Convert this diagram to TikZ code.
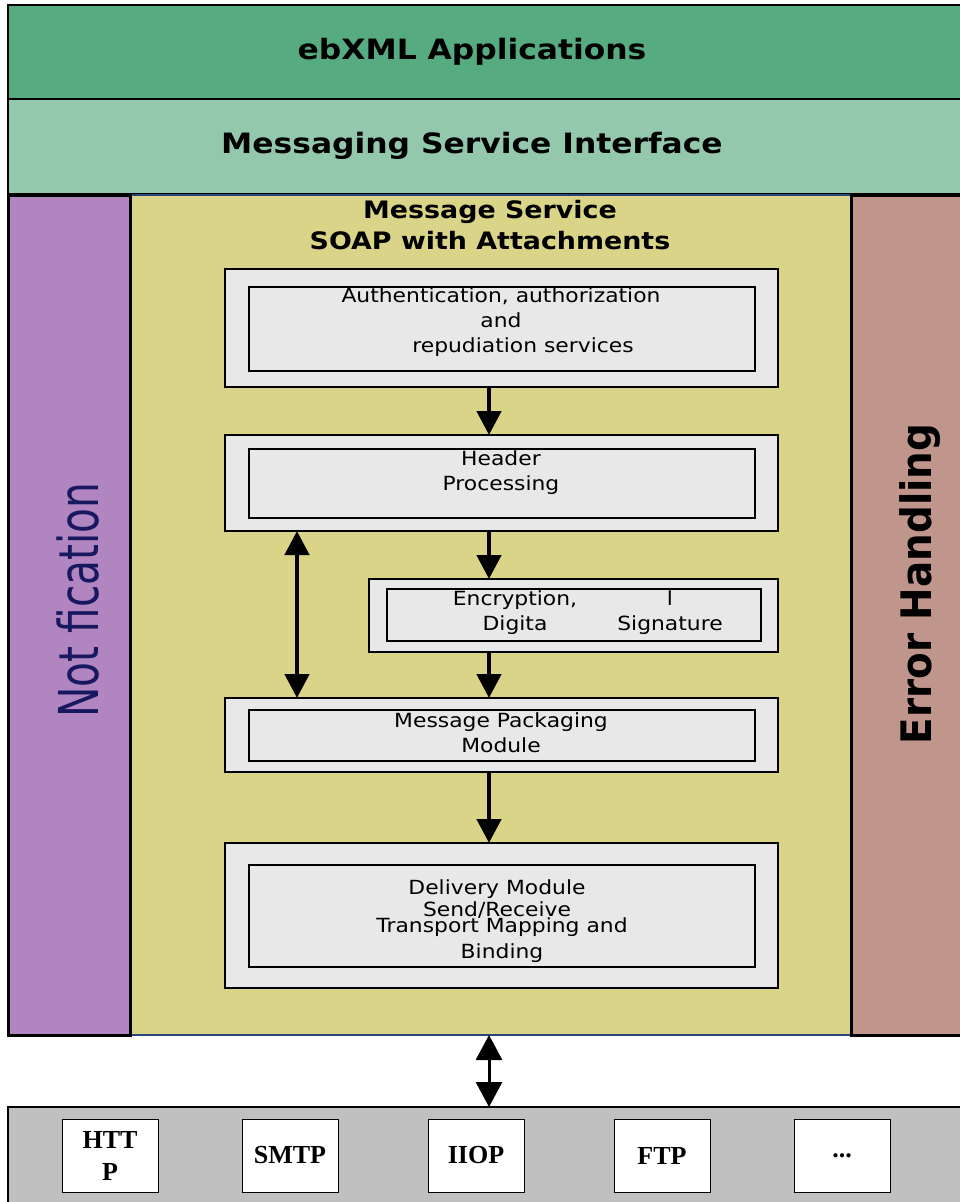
\documentclass[tikz,border=0pt]{standalone}
\usepackage{fontspec}
\usepackage{graphicx}
\setmainfont[FakeStretch=1.12]{DejaVu Sans}
\newfontfamily\barfont{DejaVu Sans}
\newfontfamily\protofont{Liberation Serif}
\usetikzlibrary{arrows.meta}

\definecolor{appgreen}{RGB}{86,171,128}
\definecolor{msigreen}{RGB}{147,200,172}
\definecolor{notifpurple}{RGB}{176,133,192}
\definecolor{notifnavy}{RGB}{24,24,96}
\definecolor{coreyellow}{RGB}{217,212,135}
\definecolor{errrose}{RGB}{192,149,140}
\definecolor{modgray}{RGB}{232,232,232}
\definecolor{transgray}{RGB}{192,192,192}
\definecolor{edgeblue}{RGB}{40,70,120}

\tikzset{
  layer/.style={draw, line width=1.5pt, anchor=north west, inner sep=0pt, outer sep=0pt},
  layertext/.style={font=\fontsize{28}{32}\selectfont\bfseries},
  sidebar/.style={draw, line width=3pt, anchor=north west, inner sep=0pt, outer sep=0pt},
  modbox/.style={draw, fill=modgray, line width=1.5pt, anchor=north west, inner sep=0pt, outer sep=0pt},
  modtext/.style={align=center, inner sep=0pt, font=\fontsize{19.5}{25}\selectfont},
  protobox/.style={draw, fill=white, line width=0.8pt, anchor=north west, inner sep=0pt, outer sep=0pt,
    minimum width=96, minimum height=73},
  prototext/.style={align=center, inner sep=0pt, font=\protofont\bfseries\fontsize{26}{32}\selectfont},
  flow/.style={line width=4.5pt, -{Triangle[length=24pt,width=24pt]}},
  dflow/.style={line width=4.5pt, {Triangle[length=24pt,width=24pt]}-{Triangle[length=24pt,width=24pt]}},
  tflow/.style={line width=3pt, {Triangle[length=25pt,width=26pt]}-{Triangle[length=25pt,width=26pt]}}
}

\begin{document}
\begin{tikzpicture}[x=1pt,y=-1pt]
  \useasboundingbox (0,0) rectangle (960,1202);

  % application side
  \node[layer, fill=appgreen, minimum width=956, minimum height=94] (apps) at (8,5) {};
  \node[layertext] (appsname) at (472,52) {ebXML Applications};
  \node[layer, fill=msigreen, minimum width=956, minimum height=95] (msi) at (8,99) {};
  \node[layertext] (msiname) at (472,146) {Messaging Service Interface};

  % message service core and side bars
  \node[anchor=north west, fill=coreyellow, inner sep=0pt, outer sep=0pt,
        minimum width=721, minimum height=840] (core) at (130,195) {};
  \draw[edgeblue, line width=1.5pt] (core.north west) -- (core.north east);
  \draw[edgeblue, line width=1.5pt] (core.south west) -- (core.south east);
  \node[sidebar, fill=notifpurple, minimum width=122, minimum height=840] (notify) at (8,195) {};
  \node[sidebar, fill=errrose, minimum width=115, minimum height=840] (errh) at (851,195) {};
  \node[rotate=90, anchor=base, inner sep=0pt, text=notifnavy, font=\barfont\fontsize{55}{60}\selectfont]
    (notifyname) at (98,600) {\scalebox{0.74}[1]{Not fication}};
  \node[rotate=90, anchor=base, inner sep=0pt, font=\barfont\fontsize{42}{48}\selectfont\bfseries]
    (errname) at (931,584) {\scalebox{0.925}[1]{Error Handling}};
  \node[align=center, font=\fontsize{24}{31}\selectfont\bfseries] (svcname) at (490,225)
    {Message Service\\SOAP with Attachments};

  % processing modules
  \node[modbox, minimum width=553, minimum height=118] (auth) at (225,269) {};
  \node[modbox, minimum width=506, minimum height=84] (authin) at (249,287) {};
  \node[modtext] (authtext) at (501,322)
    {Authentication, authorization\\and\\\hspace*{44pt}repudiation services};

  \node[modbox, minimum width=553, minimum height=96] (hdr) at (225,435) {};
  \node[modbox, minimum width=506, minimum height=69] (hdrin) at (249,449) {};
  \node[modtext] (hdrtext) at (501,473) {Header\\Processing};

  \node[modbox, minimum width=409, minimum height=73] (enc) at (369,579) {};
  \node[modbox, minimum width=374, minimum height=52] (encin) at (387,589) {};
  \node[modtext] (encleft) at (515,613) {Encryption,\\Digita};
  \node[modtext] (encright) at (670,613) {l\\Signature};

  \node[modbox, minimum width=553, minimum height=74] (pkg) at (225,698) {};
  \node[modbox, minimum width=506, minimum height=51] (pkgin) at (249,710) {};
  \node[modtext] (pkgtext) at (501,733) {Message Packaging\\Module};

  \node[modbox, minimum width=553, minimum height=145] (dlv) at (225,843) {};
  \node[modbox, minimum width=506, minimum height=102] (dlvin) at (249,865) {};
  \node[modtext, font=\fontsize{19.5}{22}\selectfont] (dlvtop) at (497,899) {Delivery Module\\Send/Receive};
  \node[modtext, font=\fontsize{19.5}{26}\selectfont] (dlvbot) at (502,940) {Transport Mapping and\\Binding};

  % transport protocols
  \node[anchor=north west, draw, line width=1.5pt, fill=transgray, inner sep=0pt, outer sep=0pt,
        minimum width=956, minimum height=100] (trans) at (8,1107) {};
  \node[protobox] (http) at (62,1119) {};
  \node[prototext] at (http.center) {HTT\\P};
  \node[protobox] (smtp) at (242,1119) {};
  \node[prototext] at (smtp.center) {SMTP};
  \node[protobox] (iiop) at (428,1119) {};
  \node[prototext] at (iiop.center) {IIOP};
  \node[protobox] (ftp) at (614,1119) {};
  \node[prototext] at (ftp.center) {FTP};
  \node[protobox] (more) at (794,1119) {};
  \node[prototext] at (more.center) {...};

  % connectors
  \coordinate (spine) at (489,0);
  \coordinate (side) at (297,0);
  \draw[flow] (spine |- auth.south) -- (spine |- hdr.north);
  \draw[flow] (spine |- hdr.south) -- (spine |- enc.north);
  \draw[flow] (spine |- enc.south) -- (spine |- pkg.north);
  \draw[flow] (spine |- pkg.south) -- (spine |- dlv.north);
  \draw[dflow] (side |- hdr.south) -- (side |- pkg.north);
  \draw[tflow] (spine |- core.south) -- (spine |- trans.north);
\end{tikzpicture}
\end{document}
